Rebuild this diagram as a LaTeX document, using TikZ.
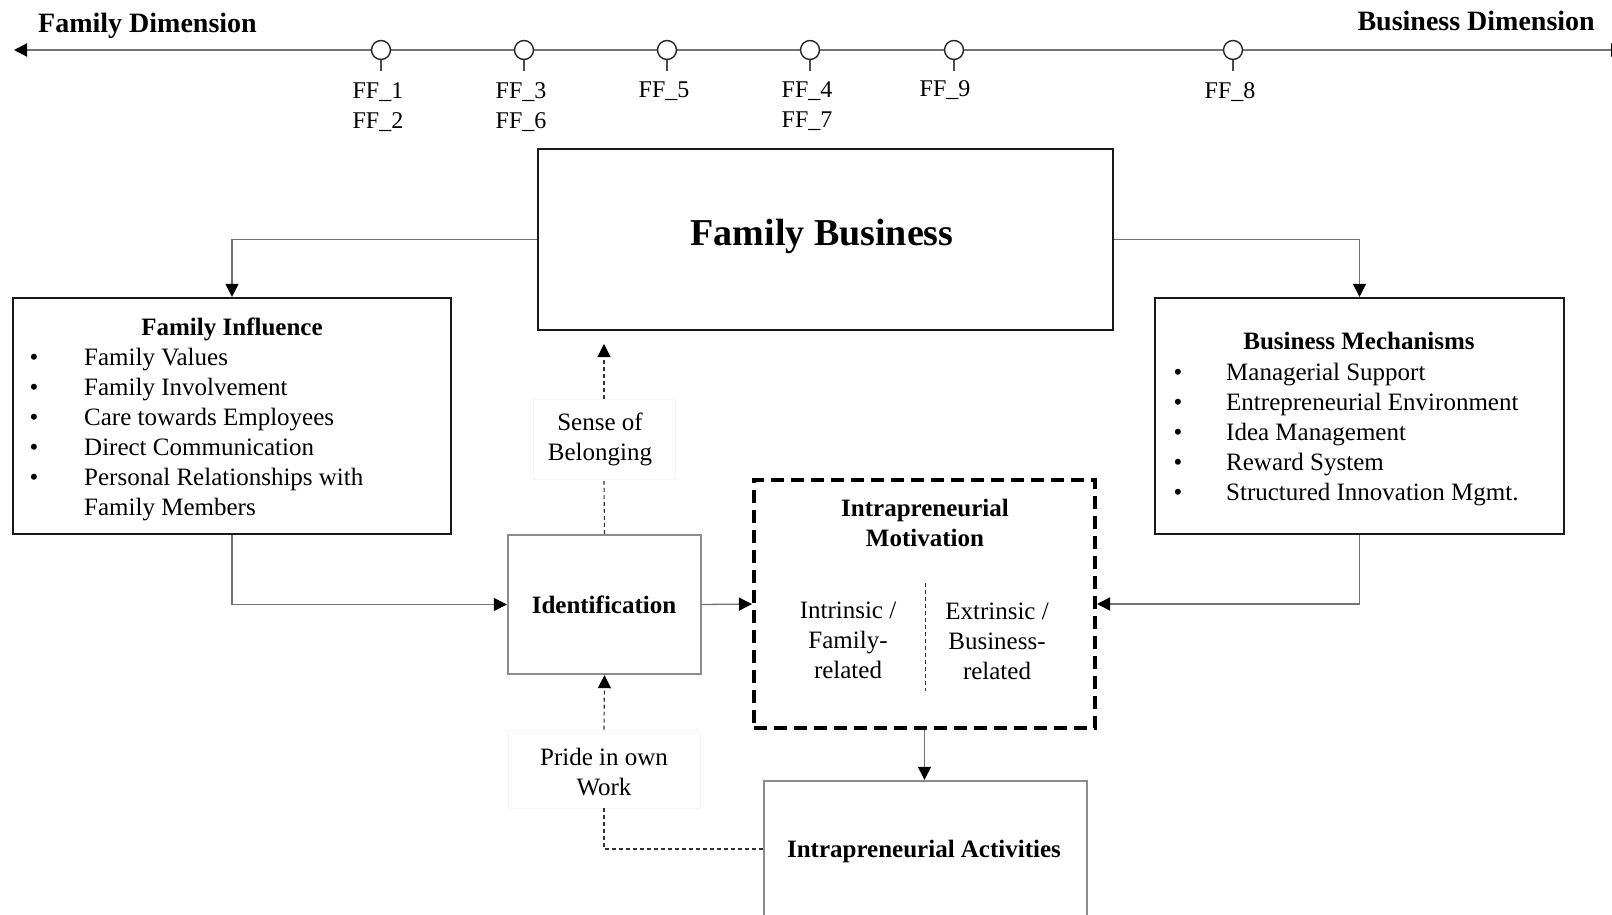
\documentclass[tikz,border=0pt]{standalone}
\usepackage{fontspec}
\setmainfont{Liberation Serif}
\usetikzlibrary{arrows.meta}

\tikzset{
  tip/.tip={Triangle[length=13pt,width=13pt,color=black]},
  blackbox/.style={draw=black!90, line width=2.2pt, inner sep=0pt},
  graybox/.style={draw=black!45, line width=2.4pt, inner sep=0pt},
  faintbox/.style={draw=black!4, line width=0.8pt, inner sep=0pt},
  motivbox/.style={draw=black, line width=4pt, dash pattern=on 13pt off 7pt, inner sep=0pt},
  plainconn/.style={draw=black!55, line width=1.3pt},
  conn/.style={plainconn, -tip},
  dline/.style={draw=black!80, line width=1.1pt, dash pattern=on 4pt off 3pt},
  dconn/.style={dline, -tip},
  axisline/.style={draw=black!55, line width=2pt, tip-tip},
  ffdot/.style={circle, draw=black!85, fill=white, line width=1.4pt, minimum size=19pt, inner sep=0pt},
  tick/.style={draw=black!70, line width=1.1pt},
  body/.style={font=\fontsize{25}{30}\selectfont, inner sep=0pt, align=center},
  bodyb/.style={body, font=\fontsize{25}{30}\selectfont\bfseries},
  fflabel/.style={font=\fontsize{24}{30}\selectfont, inner sep=0pt, align=center, anchor=north},
  dimlabel/.style={font=\fontsize{28}{32}\selectfont\bfseries, inner sep=0pt},
}

\begin{document}
\begin{tikzpicture}[x=1pt, y=-1pt]
\useasboundingbox (0,0) rectangle (1612,915);

% ---------- dimension axis ----------
\coordinate (axL) at (14,50);
\coordinate (axR) at (1624,50);
\draw[axisline] (axL) -- (axR);
\node[dimlabel, anchor=base west] (famdim) at (38,33) {Family Dimension};
\node[dimlabel, anchor=base east] (busdim) at (1595,31) {Business Dimension};

\foreach \n/\x/\dx/\y/\lab in {1/381/-3/82/{FF\_1\\FF\_2}, 2/524/-3/82/{FF\_3\\FF\_6}, 3/667/-3/82/{FF\_5},
                               4/810/-3/82/{FF\_4\\FF\_7}, 5/954/-9/80/{FF\_9}, 6/1233/-3/82/{FF\_8}} {
  \coordinate (t\n) at (\x,71);
  \draw[tick] (\x,50) -- (t\n);
  \node[ffdot] (d\n) at (\x,50) {};
  \node[fflabel] (l\n) at (\x+\dx,\y) {\lab};
}

% ---------- main boxes ----------
\node[blackbox, minimum width=575pt, minimum height=181pt] (FB) at (825.5,239.5) {};
\node[font=\fontsize{38}{44}\selectfont\bfseries, inner sep=0pt] (FBt) at (822,236) {Family Business};

\node[blackbox, minimum width=438pt, minimum height=236pt] (FI) at (232,416) {};
\node[bodyb, anchor=base] (FIt) at (232,335) {Family Influence};
\foreach \i/\t in {0/Family Values, 1/Family Involvement, 2/Care towards Employees,
                   3/Direct Communication, 4/Personal Relationships with} {
  \node[body, anchor=base] (fib\i) at (34,365+30*\i) {\textbullet};
  \node[body, anchor=base west] (fii\i) at (84,365+30*\i) {\t};
}
\node[body, anchor=base west] (fii5) at (84,515) {Family Members};

\node[blackbox, minimum width=409pt, minimum height=236pt] (BM) at (1359.5,416) {};
\node[bodyb, anchor=base] (BMt) at (1359,349) {Business Mechanisms};
\foreach \i/\t in {0/Managerial Support, 1/Entrepreneurial Environment, 2/Idea Management,
                   3/Reward System, 4/Structured Innovation Mgmt.} {
  \node[body, anchor=base] (bmb\i) at (1178,380+30*\i) {\textbullet};
  \node[body, anchor=base west] (bmi\i) at (1226,380+30*\i) {\t};
}

\node[graybox, minimum width=193pt, minimum height=139pt] (ID) at (604.5,604.5) {};
\node[bodyb, anchor=base] (IDt) at (604,613) {Identification};

\node[motivbox, minimum width=341pt, minimum height=248pt] (IM) at (924.5,604) {};
\node[bodyb] (IMt) at (925,523) {Intrapreneurial\\Motivation};
\coordinate (sepT) at (925,583);
\coordinate (sepB) at (925,691);
\draw[dline, line width=1pt] (sepT) -- (sepB);
\node[body] (IMl) at (848,640) {Intrinsic /\\Family-\\related};
\node[body] (IMr) at (997,641) {Extrinsic /\\Business-\\related};

\node[graybox, minimum width=323pt, minimum height=136pt] (IA) at (925.5,849) {};
\node[bodyb, anchor=base] (IAt) at (924,857) {Intrapreneurial Activities};

% ---------- intermediate labels ----------
\node[faintbox, minimum width=142pt, minimum height=80pt] (SB) at (604,439) {};
\node[body] (SBt) at (600,439) {Sense of\\Belonging};
\node[faintbox, minimum width=192pt, minimum height=78pt] (PW) at (604,769) {};
\node[body] (PWt) at (604,772) {Pride in own\\Work};
\coordinate (sbtip) at (604,344);

% ---------- connectors ----------
\draw[conn] (FB.west) -| (FI.north);
\draw[conn] (FB.east) -| (BM.north);
\draw[conn] (FI.south) |- (ID.west);
\draw[conn] (ID.east) -- (IM.west);
\draw[conn] (BM.south) |- (IM.east);
\draw[conn] (IM.south) -- (IM.south |- IA.north);

\draw[dline] (ID.north) -- (SB.south);
\draw[dconn] (SB.north) -- (sbtip);
\draw[dline] (IA.west) -| (PW.south);
\draw[dconn] (PW.north) -- (ID.south);
\end{tikzpicture}
\end{document}
